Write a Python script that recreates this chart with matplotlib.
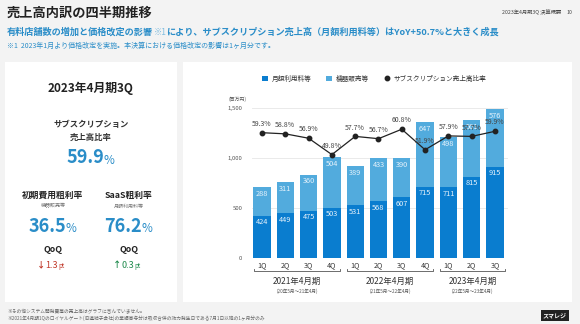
import matplotlib
matplotlib.use("Agg")
import matplotlib.pyplot as plt
from matplotlib.patches import Rectangle
from matplotlib.transforms import blended_transform_factory
import numpy as np

plt.rcParams['font.family'] = ['Noto Sans CJK JP', 'DejaVu Sans']

# ---- data ----
quarters = ["1Q", "2Q", "3Q", "4Q", "1Q", "2Q", "3Q", "4Q", "1Q", "2Q", "3Q"]
monthly_fee = [424, 449, 475, 503, 531, 568, 607, 715, 711, 815, 915]
device_sales = [288, 311, 360, 504, 389, 433, 390, 647, 498, 561, 576]
subscription_ratio = [59.3, 58.8, 56.9, 49.8, 57.7, 56.7, 60.8, 51.9, 57.9, 57.7, 59.9]
fiscal_years = ["2021年4月期", "2022年4月期", "2023年4月期"]
fiscal_periods = ["(20年5月～21年4月)", "(21年5月～22年4月)", "(22年5月～23年4月)"]
y_ticks = [0, 500, 1000, 1500]
y_tick_labels = ["0", "500", "1,000", "1,500"]

DARK = "#0a7dcf"
LIGHT = "#52abdd"
ACCENT = "#2a8dc8"
W, H = 580, 324

fig = plt.figure(figsize=(W / 100, H / 100), dpi=100)
fig.patch.set_facecolor("#f3f3f3")


def fx(px):
    return px / W


def fy(py):
    return 1 - py / H


def ftext(px, py, s, **kw):
    fig.text(fx(px), fy(py), s, **kw)


# white panels (behind everything)
for x0, x1 in [(5, 177), (183, 572)]:
    fig.patches.append(Rectangle((fx(x0), fy(302)), fx(x1) - fx(x0), fy(62) - fy(302),
                                 transform=fig.transFigure, facecolor="white",
                                 edgecolor="none", zorder=-10))

# header
ftext(7, 13, "売上高内訳の四半期推移", fontsize=9.5, fontweight="bold", color="#222222",
      va="center", ha="left")
ftext(502, 12, "2023年4月期3Q 決算概要", fontsize=3.8, color="#444444", va="center", ha="left")
ftext(566, 12, "10", fontsize=3.8, color="#444444", va="center", ha="left")
ftext(7, 32, "有料店舗数の増加と価格改定の影響", fontsize=6.6, fontweight="bold",
      color=ACCENT, va="center", ha="left")
ftext(154, 32, "※1", fontsize=6.0, color="#7fbde0", va="center", ha="left")
ftext(166, 32, "により、サブスクリプション売上高（月額利用料等）はYoY+50.7%と大きく成長",
      fontsize=6.6, fontweight="bold", color=ACCENT, va="center", ha="left")
ftext(7, 46, "※1  2023年1月より価格改定を実施。本決算における価格改定の影響は1ヶ月分です。",
      fontsize=5.0, color=ACCENT, va="center", ha="left")

# left KPI panel
ftext(91, 88, "2023年4月期3Q", fontsize=8.5, fontweight="bold", color="#222222",
      ha="center", va="center")
ftext(91, 125, "サブスクリプション", fontsize=6.0, fontweight="bold", color="#333333",
      ha="center", va="center")
ftext(91, 137, "売上高比率", fontsize=6.0, fontweight="bold", color="#333333",
      ha="center", va="center")
ftext(104, 158, "59.9", fontsize=13, fontweight="bold", color=ACCENT, ha="right", va="center")
ftext(104, 160, "%", fontsize=8.5, color=ACCENT, ha="left", va="center")

for cx, head, sub, val, qoq, qcol, arrow in [
        (53, "初期費用粗利率", "機器販売等", "36.5", "1.3", "#c0392b", "↓"),
        (129, "SaaS粗利率", "月額利用料等", "76.2", "0.3", "#1e8a4c", "↑")]:
    ftext(cx, 195, head, fontsize=6.3, fontweight="bold", color="#222222",
          ha="center", va="center")
    ftext(cx, 206, sub, fontsize=3.6, color="#777777", ha="center", va="center")
    ftext(cx + 13, 226, val, fontsize=13, fontweight="bold", color=ACCENT,
          ha="right", va="center")
    ftext(cx + 13, 228, "%", fontsize=8.5, color=ACCENT, ha="left", va="center")
    ftext(cx, 250, "QoQ", fontsize=6.3, fontweight="bold", color="#222222",
          ha="center", va="center")
    ftext(cx - 12, 265, arrow, fontsize=6.0, fontweight="bold", color=qcol,
          ha="center", va="center")
    ftext(cx - 8, 265, qoq, fontsize=6.5, color=qcol, ha="left", va="center")
    ftext(cx + 5, 266, "pt", fontsize=4.5, color=qcol, ha="left", va="center")

# chart
ax = fig.add_axes([fx(252), fy(258), fx(508) - fx(252), fy(108) - fy(258)])
ax.set_facecolor("none")
x = np.arange(len(quarters))
bw = 0.74
ax.bar(x, monthly_fee, width=bw, color=DARK, zorder=2, label="月額利用料等")
ax.bar(x, device_sales, width=bw, bottom=monthly_fee, color=LIGHT, zorder=2,
       label="機器販売等")
ax.set_xlim(-0.43, 10.56)
ax.set_ylim(0, 1500)
ax.set_yticks(y_ticks)
ax.set_yticklabels(y_tick_labels)
ax.yaxis.grid(True, color="#e6e6e6", linewidth=0.6, zorder=0)
ax.set_axisbelow(True)
for sp in ax.spines.values():
    sp.set_visible(False)
ax.tick_params(axis="y", length=0, labelsize=4.3, labelcolor="#555555", pad=7)
ax.set_xticks(x)
ax.set_xticklabels(quarters)
ax.tick_params(axis="x", length=0, labelsize=5.2, labelcolor="#333333", pad=2.5)
ax.text(-0.02, 1.06, "(百万円)", transform=ax.transAxes, fontsize=3.5,
        color="#555555", ha="right", va="center")

for xi, m, d in zip(x, monthly_fee, device_sales):
    ax.text(xi, m - 28, f"{m}", ha="center", va="top", fontsize=5.3,
            color="#e6f2fb", zorder=3)
    ax.text(xi, m + d - 28, f"{d}", ha="center", va="top", fontsize=5.3,
            color="#e6f2fb", zorder=3)

ax2 = ax.twinx()
ax2.set_ylim(5, 70)
ax2.axis("off")
ax2.plot(x, subscription_ratio, color="#222222", linewidth=0.9, marker="o",
         markersize=3.2, zorder=4, label="サブスクリプション売上高比率")
for xi, r in zip(x, subscription_ratio):
    ax2.text(xi, r + 2.1, f"{r}%", ha="center", va="bottom", fontsize=5.0,
             color="#444444", zorder=5)

# fiscal-year brackets under the quarter labels
tr = blended_transform_factory(ax.transData, ax.transAxes)
spans = [(-0.36, 3.36), (3.64, 7.36), (7.64, 10.44)]
yb = (258 - 271) / 150
for (a, b), fyl, per in zip(spans, fiscal_years, fiscal_periods):
    ax.plot([a, a, b, b], [yb + 0.012, yb, yb, yb + 0.012], transform=tr,
            color="#555555", linewidth=0.6, clip_on=False)
    c = (a + b) / 2
    ax.text(c, (258 - 281) / 150, fyl, transform=tr, fontsize=6.0, color="#333333",
            ha="center", va="center")
    ax.text(c, (258 - 291) / 150, per, transform=tr, fontsize=3.3, color="#555555",
            ha="center", va="center")

# legend
h1, l1 = ax.get_legend_handles_labels()
h2, l2 = ax2.get_legend_handles_labels()
leg = fig.legend(h1 + h2, l1 + l2, loc="center", bbox_to_anchor=(fx(374), fy(79)),
                 ncol=3, frameon=False, fontsize=4.8, handlelength=0.9,
                 handleheight=0.9, columnspacing=2.2, handletextpad=0.6)
for t in leg.get_texts():
    t.set_color("#333333")
leg.legend_handles[2].set_linestyle("none")

# footnotes
ftext(7, 311, "※その他システム開発費等の売上高はグラフに含んでいません。", fontsize=3.4,
      color="#666666", va="center", ha="left")
ftext(7, 318, "※2021年4月期1Qのロイヤルゲート(旧連結子会社)の業績寄与分は吸収合併の効力発生日である7月1日以降の1ヶ月分のみ",
      fontsize=3.4, color="#666666", va="center", ha="left")

# logo
fig.patches.append(Rectangle((fx(541), fy(321)), fx(28), fy(310) - fy(321),
                             transform=fig.transFigure, facecolor="#222222",
                             edgecolor="none"))
ftext(555, 315.5, "スマレジ", fontsize=4.3, fontweight="bold", color="white",
      ha="center", va="center")

fig.savefig("out.png", dpi=100, facecolor=fig.get_facecolor())
